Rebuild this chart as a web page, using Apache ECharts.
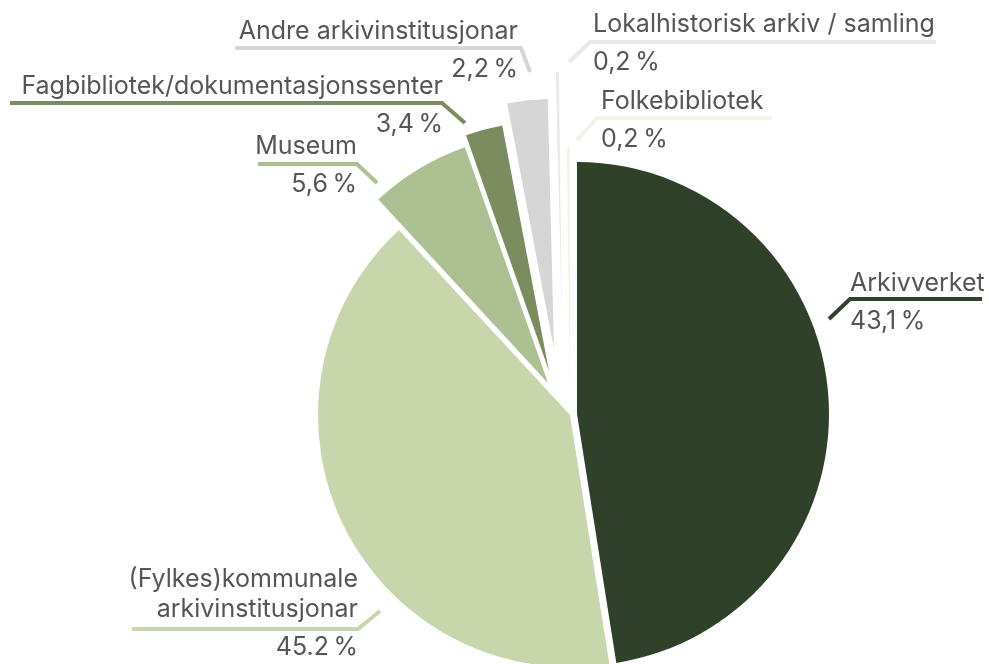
<!DOCTYPE html>
<html>
<head>
<meta charset="utf-8">
<script src="https://cdn.jsdelivr.net/npm/echarts@6/dist/echarts.min.js"></script>
<style>
  html, body { margin: 0; padding: 0; background: #fff; }
  #chart { width: 989px; height: 664px; }
</style>
</head>
<body>
<div id="chart"></div>
<script>
// kategoriar (rekkjefølgje med klokka frå toppen)
const categories = [
  'Arkivverket',
  '(Fylkes)kommunale\narkivinstitusjonar',
  'Museum',
  'Fagbibliotek/dokumentasjonssenter',
  'Andre arkivinstitusjonar',
  'Lokalhistorisk arkiv / samling',
  'Folkebibliotek'
];
// storleik på sektorane slik dei er teikna
const shares = [47.6, 40.7, 6.5, 2.4, 2.6, 0.2, 0.2];
// prosenttekst slik han står i etikettane
const pctLabels = ['43,1\u2009%', '45.2\u2009%', '5,6\u2009%', '3,4\u2009%', '2,2\u2009%', '0,2\u2009%', '0,2\u2009%'];

const colors = ['#2f4129', '#c8d7ab', '#adc091', '#7b8c5e', '#d6d6d6', '#e9e9e9', '#eef5e1'];

// plassering: kvar sektor er skoven litt ut frå midten
const sliceCenters = [[577, 414], [570, 415], [548, 383], [549, 371], [554, 349], [562, 322], [570, 397]];
const sliceRadius = [252, 252, 250, 250, 250, 250, 250];

// etikettar: ankerpunkt + knekt linje
const labelPos = [
  { x: 850, y: 268, align: 'left',  line: [[829, 319], [850, 299], [982, 299]] },
  { x: 358, y: 564, align: 'right', line: [[380, 611], [358, 629], [132, 629]] },
  { x: 357, y: 131, align: 'right', line: [[377, 183], [357, 164], [258, 164]] },
  { x: 443, y: 71,  align: 'right', line: [[465, 123], [442, 103], [10, 103]] },
  { x: 518, y: 16,  align: 'right', line: [[530, 72], [521, 48], [235, 48]] },
  { x: 593, y: 9,   align: 'left',  line: [[569, 62], [590, 42], [936, 42]] },
  { x: 601, y: 86,  align: 'left',  line: [[577, 140], [597, 118], [772, 118]] }
];

const textColor = '#555555';
const fontFamily = 'Inter, Roboto, sans-serif';

function buildSeries(i) {
  const data = categories.map((name, j) => ({
    name: name,
    value: shares[j],
    itemStyle: { color: j === i ? colors[j] : 'rgba(0,0,0,0)' },
    label: { show: j === i },
    labelLine: { show: j === i, lineStyle: { color: colors[j], width: 4 } }
  }));

  return {
    type: 'pie',
    center: sliceCenters[i],
    radius: [0, sliceRadius[i]],
    startAngle: 90,
    clockwise: true,
    avoidLabelOverlap: false,
    silent: true,
    animation: false,
    emphasis: { disabled: true },
    label: {
      position: 'outside',
      formatter: (p) => {
        const lines = categories[p.dataIndex].split('\n').map(s => `{n|${s}}`);
        return lines.join('\n') + `\n{v|${pctLabels[p.dataIndex]}}`;
      },
      rich: {
        n: { fontSize: 25, lineHeight: 30, color: textColor, fontFamily: fontFamily },
        v: { fontSize: 25, lineHeight: 46, color: textColor, fontFamily: fontFamily }
      }
    },
    labelLine: { show: true, length: 10, length2: 10 },
    labelLayout: () => {
      const l = labelPos[i];
      return {
        x: l.x,
        y: l.y,
        align: l.align,
        verticalAlign: 'top',
        labelLinePoints: l.line
      };
    },
    data: data
  };
}

const chart = echarts.init(document.getElementById('chart'));
chart.setOption({
  backgroundColor: '#ffffff',
  animation: false,
  series: categories.map((_, i) => buildSeries(i))
});
</script>
</body>
</html>
